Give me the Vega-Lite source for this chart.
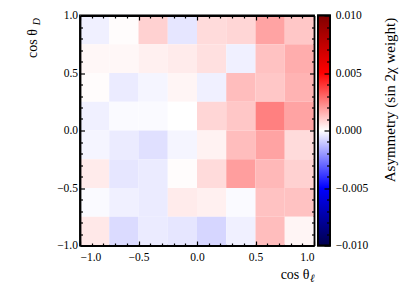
{
  "$schema": "https://vega.github.io/schema/vega-lite/v6.json",
  "padding": {"left": 24, "top": 8.5, "right": 0, "bottom": 0},
  "bounds": "flush",
  "spacing": 4,
  "background": "white",
  "config": {
    "view": {"stroke": "black", "strokeWidth": 1.8},
    "axis": {"grid": false, "domainColor": "black", "domainWidth": 1.8, "tickColor": "black", "tickWidth": 1.2,
      "labelFont": "Liberation Serif", "labelFontSize": 11.5, "labelColor": "black",
      "titleFont": "Liberation Serif", "titleFontWeight": "normal", "titleColor": "black"}
  },
  "hconcat": [
    {
      "width": 234,
      "height": 230,
      "data": {"values": [
        {"xl": -1, "xh": -0.75, "yl": 0.75, "yh": 1, "a": -0.0003},
        {"xl": -0.75, "xh": -0.5, "yl": 0.75, "yh": 1, "a": 0.00005},
        {"xl": -0.5, "xh": -0.25, "yl": 0.75, "yh": 1, "a": 0.0009},
        {"xl": -0.25, "xh": 0, "yl": 0.75, "yh": 1, "a": -0.0005},
        {"xl": 0, "xh": 0.25, "yl": 0.75, "yh": 1, "a": 0.0007},
        {"xl": 0.25, "xh": 0.5, "yl": 0.75, "yh": 1, "a": 0.0008},
        {"xl": 0.5, "xh": 0.75, "yl": 0.75, "yh": 1, "a": 0.0018},
        {"xl": 0.75, "xh": 1, "yl": 0.75, "yh": 1, "a": 0.0011},

        {"xl": -1, "xh": -0.75, "yl": 0.5, "yh": 0.75, "a": 0.00015},
        {"xl": -0.75, "xh": -0.5, "yl": 0.5, "yh": 0.75, "a": 0.00015},
        {"xl": -0.5, "xh": -0.25, "yl": 0.5, "yh": 0.75, "a": 0.0003},
        {"xl": -0.25, "xh": 0, "yl": 0.5, "yh": 0.75, "a": 0.0004},
        {"xl": 0, "xh": 0.25, "yl": 0.5, "yh": 0.75, "a": 0.0006},
        {"xl": 0.25, "xh": 0.5, "yl": 0.5, "yh": 0.75, "a": -0.0003},
        {"xl": 0.5, "xh": 0.75, "yl": 0.5, "yh": 0.75, "a": 0.0012},
        {"xl": 0.75, "xh": 1, "yl": 0.5, "yh": 0.75, "a": 0.0016},

        {"xl": -1, "xh": -0.75, "yl": 0.25, "yh": 0.5, "a": 0.00005},
        {"xl": -0.75, "xh": -0.5, "yl": 0.25, "yh": 0.5, "a": -0.0004},
        {"xl": -0.5, "xh": -0.25, "yl": 0.25, "yh": 0.5, "a": -0.0002},
        {"xl": -0.25, "xh": 0, "yl": 0.25, "yh": 0.5, "a": 0.0002},
        {"xl": 0, "xh": 0.25, "yl": 0.25, "yh": 0.5, "a": -0.0003},
        {"xl": 0.25, "xh": 0.5, "yl": 0.25, "yh": 0.5, "a": 0.0013},
        {"xl": 0.5, "xh": 0.75, "yl": 0.25, "yh": 0.5, "a": 0.0011},
        {"xl": 0.75, "xh": 1, "yl": 0.25, "yh": 0.5, "a": 0.0015},

        {"xl": -1, "xh": -0.75, "yl": 0, "yh": 0.25, "a": -0.0003},
        {"xl": -0.75, "xh": -0.5, "yl": 0, "yh": 0.25, "a": -0.0001},
        {"xl": -0.5, "xh": -0.25, "yl": 0, "yh": 0.25, "a": -0.0001},
        {"xl": -0.25, "xh": 0, "yl": 0, "yh": 0.25, "a": 0.0},
        {"xl": 0, "xh": 0.25, "yl": 0, "yh": 0.25, "a": 0.0008},
        {"xl": 0.25, "xh": 0.5, "yl": 0, "yh": 0.25, "a": 0.0011},
        {"xl": 0.5, "xh": 0.75, "yl": 0, "yh": 0.25, "a": 0.0025},
        {"xl": 0.75, "xh": 1, "yl": 0, "yh": 0.25, "a": 0.0018},

        {"xl": -1, "xh": -0.75, "yl": -0.25, "yh": 0, "a": -0.0002},
        {"xl": -0.75, "xh": -0.5, "yl": -0.25, "yh": 0, "a": -0.0004},
        {"xl": -0.5, "xh": -0.25, "yl": -0.25, "yh": 0, "a": -0.0006},
        {"xl": -0.25, "xh": 0, "yl": -0.25, "yh": 0, "a": -0.0002},
        {"xl": 0, "xh": 0.25, "yl": -0.25, "yh": 0, "a": 0.00025},
        {"xl": 0.25, "xh": 0.5, "yl": -0.25, "yh": 0, "a": 0.0013},
        {"xl": 0.5, "xh": 0.75, "yl": -0.25, "yh": 0, "a": 0.0018},
        {"xl": 0.75, "xh": 1, "yl": -0.25, "yh": 0, "a": 0.0007},

        {"xl": -1, "xh": -0.75, "yl": -0.5, "yh": -0.25, "a": 0.0004},
        {"xl": -0.75, "xh": -0.5, "yl": -0.5, "yh": -0.25, "a": -0.0005},
        {"xl": -0.5, "xh": -0.25, "yl": -0.5, "yh": -0.25, "a": -0.0004},
        {"xl": -0.25, "xh": 0, "yl": -0.5, "yh": -0.25, "a": 0.00005},
        {"xl": 0, "xh": 0.25, "yl": -0.5, "yh": -0.25, "a": 0.0007},
        {"xl": 0.25, "xh": 0.5, "yl": -0.5, "yh": -0.25, "a": 0.0019},
        {"xl": 0.5, "xh": 0.75, "yl": -0.5, "yh": -0.25, "a": 0.0014},
        {"xl": 0.75, "xh": 1, "yl": -0.5, "yh": -0.25, "a": 0.0009},

        {"xl": -1, "xh": -0.75, "yl": -0.75, "yh": -0.5, "a": -0.0001},
        {"xl": -0.75, "xh": -0.5, "yl": -0.75, "yh": -0.5, "a": -0.0003},
        {"xl": -0.5, "xh": -0.25, "yl": -0.75, "yh": -0.5, "a": -0.0004},
        {"xl": -0.25, "xh": 0, "yl": -0.75, "yh": -0.5, "a": 0.0004},
        {"xl": 0, "xh": 0.25, "yl": -0.75, "yh": -0.5, "a": 0.0003},
        {"xl": 0.25, "xh": 0.5, "yl": -0.75, "yh": -0.5, "a": -0.0001},
        {"xl": 0.5, "xh": 0.75, "yl": -0.75, "yh": -0.5, "a": 0.0012},
        {"xl": 0.75, "xh": 1, "yl": -0.75, "yh": -0.5, "a": 0.0012},

        {"xl": -1, "xh": -0.75, "yl": -1, "yh": -0.75, "a": 0.00045},
        {"xl": -0.75, "xh": -0.5, "yl": -1, "yh": -0.75, "a": -0.0007},
        {"xl": -0.5, "xh": -0.25, "yl": -1, "yh": -0.75, "a": -0.0004},
        {"xl": -0.25, "xh": 0, "yl": -1, "yh": -0.75, "a": -0.0005},
        {"xl": 0, "xh": 0.25, "yl": -1, "yh": -0.75, "a": -0.0008},
        {"xl": 0.25, "xh": 0.5, "yl": -1, "yh": -0.75, "a": -0.0003},
        {"xl": 0.5, "xh": 0.75, "yl": -1, "yh": -0.75, "a": 0.0013},
        {"xl": 0.75, "xh": 1, "yl": -1, "yh": -0.75, "a": 0.0002}
      ]},
      "layer": [
        {
          "mark": {"type": "rect", "strokeWidth": 0},
          "encoding": {
            "x": {"field": "xl", "type": "quantitative", "scale": {"domain": [-1, 1], "nice": false, "zero": false},
              "axis": {"orient": "bottom", "zindex": 1, "values": [-1, -0.9, -0.8, -0.7, -0.6, -0.5, -0.4, -0.3, -0.2, -0.1, 0, 0.1, 0.2, 0.3, 0.4, 0.5, 0.6, 0.7, 0.8, 0.9, 1],
                "labelExpr": "abs(datum.value*2 - round(datum.value*2)) < 0.001 ? format(datum.value, '.1f') : ''",
                "tickSize": -4.5, "tickDash": {"condition": {"test": "abs(datum.value*2 - round(datum.value*2)) < 0.001", "value": [20, 0]}, "value": [2.5, 20]},
                "labelPadding": 10,
                "title": "cos θ", "titleFontSize": 14, "titleX": 229, "titleY": 33, "titleAlign": "right", "titleBaseline": "alphabetic"}},
            "x2": {"field": "xh"},
            "y": {"field": "yl", "type": "quantitative", "scale": {"domain": [-1, 1], "nice": false, "zero": false},
              "axis": {"orient": "left", "zindex": 1, "values": [-1, -0.9, -0.8, -0.7, -0.6, -0.5, -0.4, -0.3, -0.2, -0.1, 0, 0.1, 0.2, 0.3, 0.4, 0.5, 0.6, 0.7, 0.8, 0.9, 1],
                "labelExpr": "abs(datum.value*2 - round(datum.value*2)) < 0.001 ? format(datum.value, '.1f') : ''",
                "tickSize": -4.5, "tickDash": {"condition": {"test": "abs(datum.value*2 - round(datum.value*2)) < 0.001", "value": [20, 0]}, "value": [2.5, 20]},
                "labelPadding": 7,
                "title": "cos θ", "titleFontSize": 14, "titleAngle": 270, "titleX": -43.5, "titleY": 13, "titleAlign": "right", "titleBaseline": "alphabetic"}},
            "y2": {"field": "yh"},
            "color": {"field": "a", "type": "quantitative", "legend": null,
              "scale": {"domain": [-0.01, -0.005, 0, 0.005, 0.01], "range": ["#00004c", "#0000ff", "#ffffff", "#ff0000", "#800000"], "interpolate": "rgb"}}
          }
        },
        {
          "mark": {"type": "rect", "opacity": 0},
          "encoding": {
            "x": {"field": "xl", "type": "quantitative",
              "axis": {"orient": "top", "zindex": 1, "labels": false, "values": [-1, -0.9, -0.8, -0.7, -0.6, -0.5, -0.4, -0.3, -0.2, -0.1, 0, 0.1, 0.2, 0.3, 0.4, 0.5, 0.6, 0.7, 0.8, 0.9, 1],
                "tickSize": -4.5, "tickDash": {"condition": {"test": "abs(datum.value*2 - round(datum.value*2)) < 0.001", "value": [20, 0]}, "value": [2.5, 20]},
                "title": "ℓ", "titleFontSize": 11, "titleFontStyle": "italic", "titleX": 229.5, "titleY": 266, "titleAlign": "left", "titleBaseline": "alphabetic"}},
            "x2": {"field": "xh"},
            "y": {"field": "yl", "type": "quantitative",
              "axis": {"orient": "right", "zindex": 1, "labels": false, "values": [-1, -0.9, -0.8, -0.7, -0.6, -0.5, -0.4, -0.3, -0.2, -0.1, 0, 0.1, 0.2, 0.3, 0.4, 0.5, 0.6, 0.7, 0.8, 0.9, 1],
                "tickSize": -4.5, "tickDash": {"condition": {"test": "abs(datum.value*2 - round(datum.value*2)) < 0.001", "value": [20, 0]}, "value": [2.5, 20]},
                "title": "D", "titleFontSize": 10, "titleFontStyle": "italic", "titleAngle": 270, "titleX": -274.5, "titleY": 2, "titleAlign": "right", "titleBaseline": "alphabetic"}},
            "y2": {"field": "yh"}
          }
        }
      ],
      "resolve": {"axis": {"x": "independent", "y": "independent"}}
    },
    {
      "width": 12,
      "height": 230,
      "data": {"values": [{"l": 0, "r": 1, "lo": -0.01, "hi": 0.01}]},
      "mark": {"type": "rect", "stroke": "black", "strokeWidth": 1.8,
        "fill": {"gradient": "linear", "x1": 0, "y1": 1, "x2": 0, "y2": 0,
          "stops": [{"offset": 0, "color": "#00004c"}, {"offset": 0.25, "color": "#0000ff"}, {"offset": 0.5, "color": "#ffffff"}, {"offset": 0.75, "color": "#ff0000"}, {"offset": 1, "color": "#800000"}]}},
      "encoding": {
        "x": {"field": "l", "type": "quantitative", "scale": {"domain": [0, 1], "nice": false}, "axis": null},
        "x2": {"field": "r"},
        "y": {"field": "lo", "type": "quantitative", "scale": {"domain": [-0.01, 0.01], "nice": false, "zero": false},
          "axis": {"orient": "right", "zindex": 1, "domain": false,
            "values": [-0.01, -0.009, -0.008, -0.007, -0.006, -0.005, -0.004, -0.003, -0.002, -0.001, 0, 0.001, 0.002, 0.003, 0.004, 0.005, 0.006, 0.007, 0.008, 0.009, 0.01],
            "labelExpr": "abs(datum.value*200 - round(datum.value*200)) < 0.001 ? format(datum.value, '.3f') : ''",
            "tickSize": -6, "tickDash": {"condition": {"test": "abs(datum.value*200 - round(datum.value*200)) < 0.001", "value": [20, 0]}, "value": [3.5, 20]},
            "labelPadding": 11.3,
            "title": "Asymmetry (sin 2χ weight)", "titleFontSize": 15, "titleAngle": 270, "titleX": 64.5, "titleY": 84, "titleAlign": "center", "titleBaseline": "alphabetic"}},
        "y2": {"field": "hi"}
      }
    }
  ]
}
